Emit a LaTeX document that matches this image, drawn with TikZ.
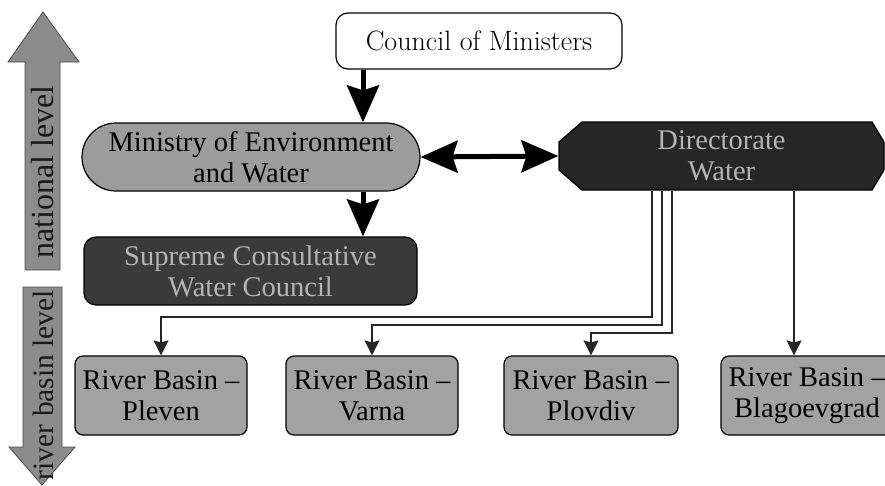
\documentclass[tikz,border=0pt]{standalone}
\usepackage{fontspec}
\newfontfamily\tnr[Ligatures=TeX]{Liberation Serif}
\usetikzlibrary{arrows.meta,calc}
\definecolor{midgray}{HTML}{9C9C9C}
\definecolor{boxgray}{HTML}{A2A2A2}
\definecolor{darkbox}{HTML}{3A3A3A}
\definecolor{darkerbox}{HTML}{262626}
\definecolor{lighttext}{HTML}{B4B4B4}
\definecolor{arrowgray}{HTML}{8C8C8C}
\tikzset{
  orgbox/.style={draw=black, line width=1.2pt, align=center, inner sep=0pt,
    font=\tnr\fontsize{28.5}{31}\selectfont},
  basin/.style={orgbox, fill=boxgray, rounded corners=8pt,
    minimum width=172pt, minimum height=79pt},
  bigarrow/.style={line width=5pt, -{Stealth[length=37pt,width=32pt,inset=5pt]}},
  bigdouble/.style={line width=5pt, {Stealth[length=37pt,width=32pt,inset=5pt]}-{Stealth[length=37pt,width=32pt,inset=5pt]}},
  thinarrow/.style={line width=1.2pt, draw=black!85, -{Stealth[length=15pt,width=15pt,inset=2pt]}},
  levelarrow/.style={fill=arrowgray, draw=black!70, line width=0.8pt},
  leveltext/.style={text=black!90, inner sep=0pt, rotate=90}
}
\begin{document}
\begin{tikzpicture}[x=1pt,y=-1pt]
\useasboundingbox (0,0) rectangle (885,485);

% level arrows
\fill[levelarrow] (43,12) -- (79,62) -- (60,62) -- (60,270) -- (25,270) -- (25,62) -- (8,62) -- cycle;
\node[leveltext, font=\tnr\fontsize{32}{32}\selectfont] (natl) at (43,172) {national level};
\fill[levelarrow] (23,287) -- (62,287) -- (62,447) -- (75,447) -- (42,485) -- (9,447) -- (23,447) -- cycle;
\node[leveltext, font=\tnr\fontsize{29.5}{30}\selectfont] (rbl) at (43,385) {river basin level};

% council
\node[draw=black, line width=1.2pt, fill=white, rounded corners=12pt,
  minimum width=286pt, minimum height=56pt, inner sep=0pt,
  font=\fontsize{28}{30}\selectfont] (council) at (479,41) {Council of Ministers};

% ministry
\node[orgbox, fill=midgray, rounded corners=34pt, minimum width=338pt, minimum height=68pt]
  (ministry) at (251,157) {Ministry of Environment\\and Water};

% supreme
\node[orgbox, fill=darkbox, text=lighttext, rounded corners=12pt, minimum width=333pt, minimum height=68pt]
  (supreme) at (250.5,271) {Supreme Consultative\\Water Council};

% directorate
\fill[darkerbox, draw=black, line width=1.2pt]
  (582,122) -- (872,122) -- (884,142) -- (884,170) -- (872,190) -- (582,190) -- (559,170) -- (559,142) -- cycle;
\node[orgbox, draw=none, text=lighttext, minimum width=325pt, minimum height=68pt]
  (dir) at (721.5,156) {Directorate\\Water};

% basins
\node[basin] (pleven) at (161,395.5) {River Basin \textendash\\Pleven};
\node[basin] (varna) at (372,395.5) {River Basin \textendash\\Varna};
\node[basin, minimum width=174pt] (plovdiv) at (591,395.5) {River Basin \textendash\\Plovdiv};
\node[basin] (blago) at (807,395.5) {River Basin \textendash\\Blagoevgrad};

% helper coordinates
\coordinate (mx) at (363,0);
\coordinate (d1) at (652,0);
\coordinate (d2) at (662,0);
\coordinate (d3) at (672,0);
\coordinate (d4) at (794,0);
\coordinate (h1) at (0,317);
\coordinate (h2) at (0,325);
\coordinate (h3) at (0,333);

% thick arrows
\draw[bigarrow] (council.south -| mx) -- (ministry.north -| mx);
\draw[bigarrow] (ministry.south -| mx) -- (supreme.north -| mx);
\draw[bigdouble] (ministry.east) -- (dir.west);

% thin connectors
\draw[thinarrow] (dir.south -| d1) -- (h1 -| d1) -- (h1 -| pleven.north) -- (pleven.north);
\draw[thinarrow] (dir.south -| d2) -- (h2 -| d2) -- (h2 -| varna.north) -- (varna.north);
\draw[thinarrow] (dir.south -| d3) -- (h3 -| d3) -- (h3 -| plovdiv.north) -- (plovdiv.north);
\draw[thinarrow] (dir.south -| d4) -- (blago.north -| d4);
\end{tikzpicture}
\end{document}
